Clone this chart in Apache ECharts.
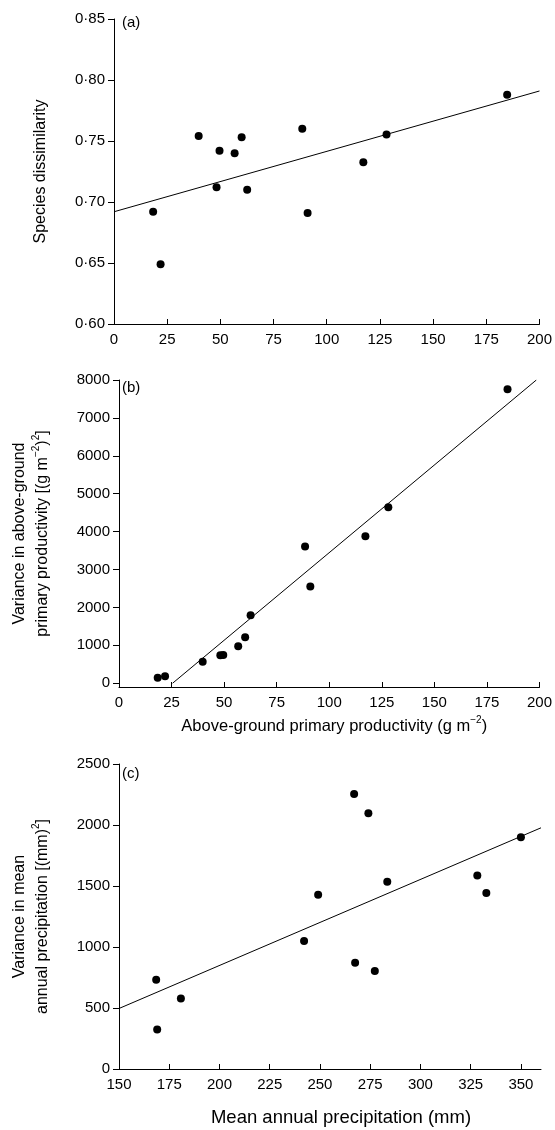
<!DOCTYPE html>
<html>
<head>
<meta charset="utf-8">
<script src="https://cdn.jsdelivr.net/npm/echarts@6/dist/echarts.min.js"></script>
<style>
html,body{margin:0;padding:0;background:#fff;}
#chart{width:555px;height:1130px;}
</style>
</head>
<body>
<div id="chart"></div>
<script>
// Shared x: above-ground primary productivity (g m-2) of the 13 sites
const anpp = [18.4, 21.9, 39.8, 48.2, 49.6, 56.7, 60.0, 62.6, 88.5, 91.0, 117.2, 128.1, 184.8];
// (a) species dissimilarity
const dissim = [0.692, 0.649, 0.754, 0.712, 0.742, 0.740, 0.753, 0.710, 0.760, 0.691, 0.7325, 0.7554, 0.788];
// (b) variance in ANPP
const varAnpp = [141, 185, 563, 738, 747, 976, 1213, 1793, 3604, 2549, 3877, 4642, 7754];
// (c) mean annual precipitation and its variance
const map = [168.5, 169.0, 180.8, 242.1, 249.1, 267.0, 267.5, 274.1, 277.3, 283.5, 328.3, 332.8, 350.0];
const varMap = [731, 324, 578, 1050, 1429, 2255, 870, 2097, 804, 1535, 1587, 1442, 1900];
// fitted regression lines (end points)
const fitAx = [0, 200], fitAy = [0.692, 0.791];
const fitBx = [25.5, 198.5], fitBy = [0, 8000];
const fitCx = [150, 360], fitCy = [496, 1977];
// tick labels
const xTicksAB = [0, 25, 50, 75, 100, 125, 150, 175, 200];
const yTicksA = [0.60, 0.65, 0.70, 0.75, 0.80, 0.85];
const yTicksB = [0, 1000, 2000, 3000, 4000, 5000, 6000, 7000, 8000];
const xTicksC = [150, 175, 200, 225, 250, 275, 300, 325, 350];
const yTicksC = [0, 500, 1000, 1500, 2000, 2500];
const panelLabels = ['(a)', '(b)', '(c)'];

const FONT = '"Liberation Sans", Arial, Helvetica, sans-serif';
const black = '#000';
const zip = (xs, ys) => xs.map((x, i) => [x, ys[i]]);

function nameStyle(size, pad) {
  return { fontSize: size, fontFamily: FONT, color: black, lineHeight: 23, padding: pad || 0,
    rich: { sup: { fontSize: 10, fontFamily: FONT, color: black, verticalAlign: 'top' } } };
}

function xAxis(grid, min, max, ticks, name, nameGap, nameSize, pad) {
  return {
    type: 'value', gridIndex: grid, min: min, max: max,
    name: name, nameLocation: 'middle', nameGap: nameGap, nameTextStyle: nameStyle(nameSize, pad),
    axisLine: { show: true, onZero: false, lineStyle: { color: black, width: 1 } },
    axisTick: { show: true, inside: true, length: 5, customValues: ticks, lineStyle: { color: black } },
    axisLabel: { customValues: ticks, fontSize: 15, fontFamily: FONT, color: black, margin: 8 },
    splitLine: { show: false }
  };
}
function yAxis(grid, min, max, ticks, name, nameGap, fmt) {
  return {
    type: 'value', gridIndex: grid, min: min, max: max,
    name: name, nameLocation: 'middle', nameGap: nameGap, nameRotate: 90, nameTextStyle: nameStyle(16),
    axisLine: { show: true, onZero: false, lineStyle: { color: black, width: 1 } },
    axisTick: { show: true, inside: false, length: 6, customValues: ticks, lineStyle: { color: black } },
    axisLabel: { customValues: ticks, fontSize: 15, fontFamily: FONT, color: black, margin: 9, formatter: fmt },
    splitLine: { show: false }
  };
}
function scatter(i, xs, ys) {
  return { type: 'scatter', xAxisIndex: i, yAxisIndex: i, data: zip(xs, ys),
    symbol: 'circle', symbolSize: 8, itemStyle: { color: black, opacity: 1 }, silent: true, z: 3 };
}
function fit(i, xs, ys) {
  return { type: 'line', xAxisIndex: i, yAxisIndex: i, data: zip(xs, ys),
    symbol: 'none', lineStyle: { color: black, width: 1 }, silent: true, z: 2, clip: true };
}
const labelStyle = { fontSize: 15, fontWeight: 'normal', fontFamily: FONT, color: black };

const chart = echarts.init(document.getElementById('chart'), null, { renderer: 'canvas' });
chart.setOption({
  animation: false,
  backgroundColor: '#fff',
  grid: [
    { left: 114, top: 19, width: 427, height: 305 },
    { left: 114, top: 380, width: 427, height: 307 },
    { left: 114, top: 764, width: 427, height: 305 }
  ],
  title: [
    { text: panelLabels[0], left: 122, top: 15, padding: 0, textStyle: labelStyle },
    { text: panelLabels[1], left: 122, top: 380, padding: 0, textStyle: labelStyle },
    { text: panelLabels[2], left: 122, top: 766, padding: 0, textStyle: labelStyle }
  ],
  xAxis: [
    xAxis(0, 0, 200, xTicksAB, '', 30, 16),
    xAxis(1, 0, 200, xTicksAB, 'Above-ground primary productivity (g m{sup|\u22122})', 28, 16.5, [0, 0, 0, 10]),
    xAxis(2, 150, 360, xTicksC, 'Mean annual precipitation (mm)', 37, 18.5, [0, 0, 0, 22])
  ],
  yAxis: [
    yAxis(0, 0.60, 0.85, yTicksA, 'Species dissimilarity', 62, v => v.toFixed(2).replace('.', '\u00b7')),
    yAxis(1, -100, 8000, yTicksB, 'Variance in above-ground\nprimary productivity [(g m{sup|\u22122}){sup|2}]', 65, v => String(v)),
    yAxis(2, 0, 2500, yTicksC, 'Variance in mean\nannual precipitation [(mm){sup|2}]', 65, v => String(v))
  ],
  series: [
    fit(0, fitAx, fitAy), scatter(0, anpp, dissim),
    fit(1, fitBx, fitBy), scatter(1, anpp, varAnpp),
    fit(2, fitCx, fitCy), scatter(2, map, varMap)
  ]
});
</script>
</body>
</html>
